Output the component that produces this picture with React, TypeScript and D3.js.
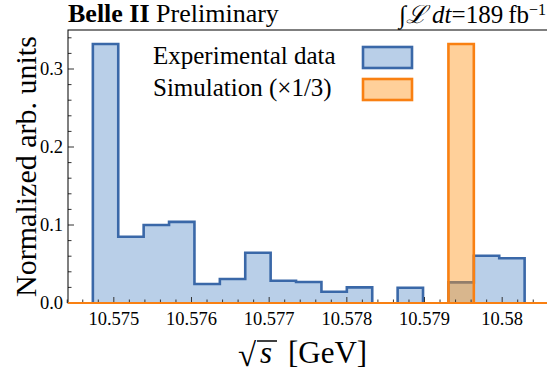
import React from 'react';
import * as d3 from 'd3';

// bin edges in GeV (17 bins)
const binEdges = [
  10.57473, 10.575057, 10.575384, 10.575711, 10.576038, 10.576365, 10.576692,
  10.577019, 10.577346, 10.577673, 10.578, 10.578327, 10.578654, 10.578981,
  10.579308, 10.579635, 10.579962, 10.580289
];
const dataValues = [
  0.332, 0.085, 0.1, 0.104, 0.0244, 0.0308, 0.0645, 0.0286, 0.027, 0.0145,
  0.02, 0, 0.0196, 0, 0.0265, 0.0606, 0.0573
];
const simValues = [0, 0, 0, 0, 0, 0, 0, 0, 0, 0, 0, 0, 0, 0, 0.332, 0, 0];

const xTicks = [10.575, 10.576, 10.577, 10.578, 10.579, 10.58];
const xTickLabels = ['10.575', '10.576', '10.577', '10.578', '10.579', '10.58'];
const yTicks = [0, 0.1, 0.2, 0.3];
const yTickLabels = ['0.0', '0.1', '0.2', '0.3'];
const legendLabels = ['Experimental data', 'Simulation (\u00d71/3)'];

const W = 547;
const H = 376;
const margin = { top: 30, right: -1, bottom: 73, left: 68 };
const FONT = '"Liberation Serif", "Times New Roman", serif';

const BLUE = '#3a68a8';
const BLUE_FILL = '#b9cfe8';
const ORANGE = '#f98012';
const ORANGE_FILL = 'rgba(255,150,30,0.45)';

// outline + fill paths for contiguous non-zero runs
function histPaths(values: number[], x: d3.ScaleLinear<number, number>, y: d3.ScaleLinear<number, number>) {
  const fill = d3.path();
  const line = d3.path();
  let i = 0;
  while (i < values.length) {
    if (values[i] <= 0) { i++; continue; }
    let j = i;
    while (j < values.length && values[j] > 0) j++;
    fill.moveTo(x(binEdges[i]), y(0));
    line.moveTo(x(binEdges[i]), y(0));
    for (let k = i; k < j; k++) {
      fill.lineTo(x(binEdges[k]), y(values[k]));
      fill.lineTo(x(binEdges[k + 1]), y(values[k]));
      line.lineTo(x(binEdges[k]), y(values[k]));
      line.lineTo(x(binEdges[k + 1]), y(values[k]));
    }
    fill.lineTo(x(binEdges[j]), y(0));
    fill.closePath();
    line.lineTo(x(binEdges[j]), y(0));
    i = j;
  }
  return { fill: fill.toString(), line: line.toString() };
}

export default function App() {
  const x = d3.scaleLinear().domain([10.57441, 10.58059]).range([margin.left, W - margin.right]);
  const y = d3.scaleLinear().domain([0, 0.35]).range([H - margin.bottom, margin.top]);

  const blue = histPaths(dataValues, x, y);
  const orange = histPaths(simValues, x, y);

  const xMinor = d3.range(10.5744, 10.5806, 0.0002).filter(v => !xTicks.some(t => Math.abs(t - v) < 1e-6));
  const yMinor = d3.range(0, 0.35, 0.02).filter(v => !yTicks.some(t => Math.abs(t - v) < 1e-6));

  const x0 = margin.left;
  const x1 = W - margin.right;
  const y0 = H - margin.bottom;
  const y1 = margin.top;

  return (
    <svg width={W} height={H} style={{ position: 'absolute', left: 0, top: 0, background: '#fff' }} fontFamily={FONT}>
      <path d={blue.fill} fill={BLUE_FILL} />
      <path d={blue.line} fill="none" stroke={BLUE} strokeWidth={2.6} />
      <path d={orange.fill} fill={ORANGE_FILL} />
      <path d={orange.line} fill="none" stroke={ORANGE} strokeWidth={2.6} />

      {/* ticks */}
      <g stroke="#333" strokeWidth={1}>
        {xTicks.map(t => <line key={'xt' + t} x1={x(t)} x2={x(t)} y1={y0} y2={y0 - 6} />)}
        {xMinor.map(t => <line key={'xm' + t} x1={x(t)} x2={x(t)} y1={y0} y2={y0 - 3.5} />)}
        {yTicks.map(t => <line key={'yt' + t} x1={x0} x2={x0 + 6} y1={y(t)} y2={y(t)} />)}
        {yMinor.map(t => <line key={'ym' + t} x1={x0} x2={x0 + 3.5} y1={y(t)} y2={y(t)} />)}
      </g>

      {/* frame */}
      <rect x={x0} y={y1} width={x1 - x0} height={y0 - y1} fill="none" stroke="#000" strokeWidth={1} />
      <line x1={x0} x2={x1} y1={y0} y2={y0} stroke={ORANGE} strokeWidth={2} />

      {/* tick labels */}
      {xTicks.map((t, i) => (
        <text key={'xl' + t} x={x(t)} y={y0 + 22} textAnchor="middle" fontSize={18.5}>{xTickLabels[i]}</text>
      ))}
      {yTicks.map((t, i) => (
        <text key={'yl' + t} x={x0 - 5} y={y(t) + 6} textAnchor="end" fontSize={18.5}>{yTickLabels[i]}</text>
      ))}

      {/* axis titles */}
      <text transform={`translate(36,${(y0 + y1) / 2}) rotate(-90)`} textAnchor="middle" fontSize={30}>Normalized arb. units</text>
      <g transform="translate(238,366)">
        <text x={0} y={0} fontSize={33}>{'\u221a'}</text>
        <line x1={19} x2={39} y1={-25} y2={-25} stroke="#000" strokeWidth={1.5} />
        <text x={22} y={-3} fontSize={31} fontStyle="italic">s</text>
        <text x={50} y={-3} fontSize={31}>[GeV]</text>
      </g>

      {/* header */}
      <text x={x0} y={22} fontSize={26}>
        <tspan fontWeight="bold">Belle II</tspan>
        <tspan> Preliminary</tspan>
      </text>
      <text x={546} y={23} textAnchor="end" fontSize={25}>
        <tspan>{'\u222b'}</tspan>
        <tspan fontStyle="italic">{'\u2112'}</tspan>
        <tspan fontStyle="italic">{'\u2009dt'}</tspan>
        <tspan>{'=189\u2009fb'}</tspan>
        <tspan fontSize={16} dy={-8}>{'\u22121'}</tspan>
      </text>

      {/* legend */}
      {legendLabels.map((lab, i) => (
        <g key={lab} transform={`translate(0,${i * 32})`}>
          <text x={153} y={64} fontSize={25}>{lab}</text>
          <rect x={363} y={47} width={49} height={21}
            fill={i === 0 ? BLUE_FILL : ORANGE_FILL}
            stroke={i === 0 ? BLUE : ORANGE} strokeWidth={2.6} />
        </g>
      ))}
    </svg>
  );
}
